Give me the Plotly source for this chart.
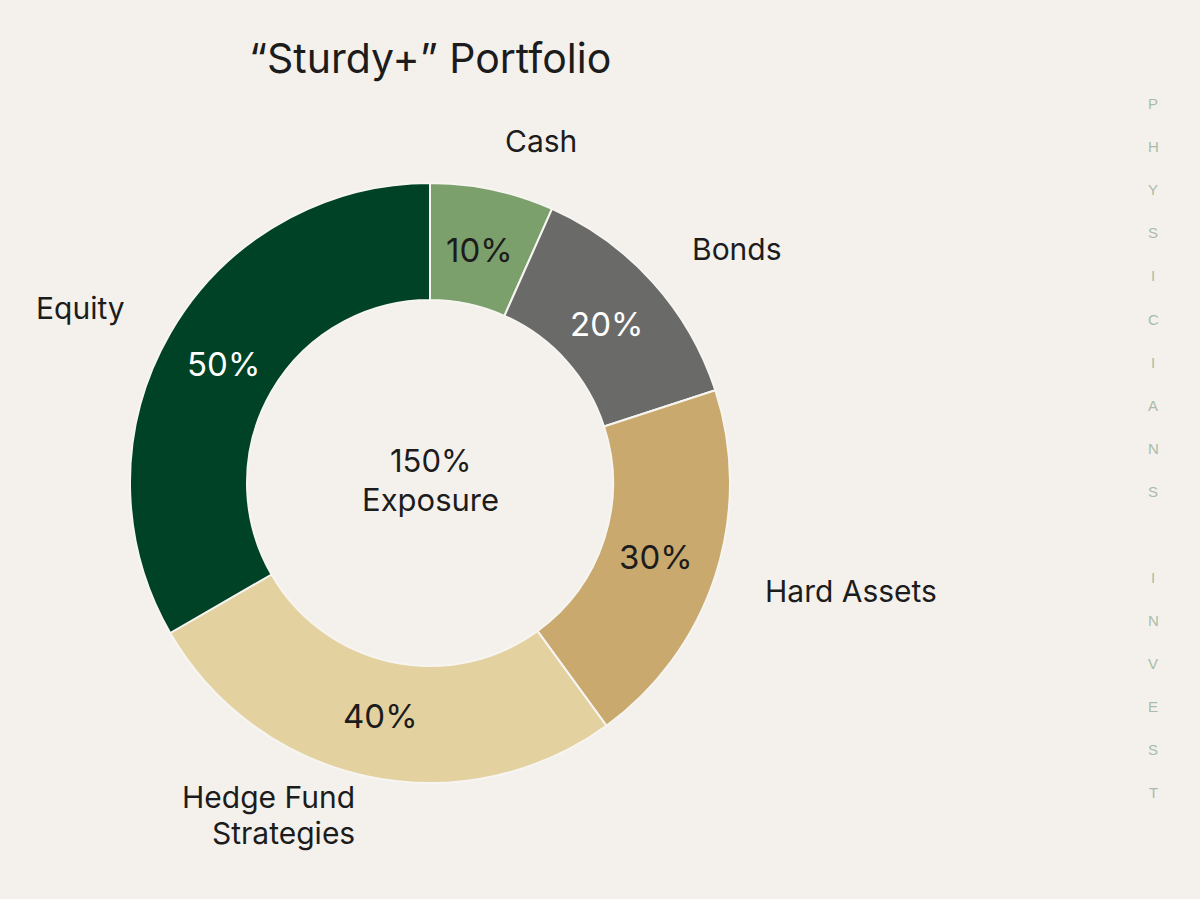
import math
import plotly.graph_objects as go

labels = ["Cash", "Bonds", "Hard Assets", "Hedge Fund<br>Strategies", "Equity"]
values = [10, 20, 30, 40, 50]
colors = ["#7ca06c", "#6a6b69", "#c9a96e", "#e3d1a0", "#004225"]
text_colors = ["#1c1c1c", "#ffffff", "#1c1c1c", "#1c1c1c", "#ffffff"]
title_text = "“Sturdy+” Portfolio"
center_text = "150%<br>Exposure"
side_text = "PHYSICIANS INVEST"

W, H = 1200, 899
BG = "#f4f1ec"
FONT = "Inter, Roboto, sans-serif"
DARK = "#1c1c1c"

cx, cy, R = 430, 483, 300  # pixel geometry of the donut
HOLE = 0.61

fig = go.Figure()
fig.add_trace(go.Pie(
    labels=labels,
    values=values,
    sort=False,
    direction="clockwise",
    rotation=0,
    hole=HOLE,
    marker=dict(colors=colors, line=dict(color="#f7f5f1", width=2)),
    textinfo="none",
    showlegend=False,
    hoverinfo="label+value",
    domain=dict(x=[(cx - R) / W, (cx + R) / W],
                y=[(H - cy - R) / H, (H - cy + R) / H]),
))

annotations = []


def add_text(px, py, text, size, color, xanchor="center", family=FONT,
             line=36, lift=0.0):
    lines = text.split("<br>")
    n = len(lines)
    base = py - (n - 1) * line * lift
    for k, ln in enumerate(lines):
        yy = base + (k - (n - 1) / 2) * line
        annotations.append(dict(
            x=px / W, y=1 - yy / H, xref="paper", yref="paper",
            text=ln, showarrow=False, xanchor=xanchor, yanchor="middle",
            font=dict(family=family, size=size, color=color),
        ))


total = sum(values)
acc = 0
r_lab = 350
r_pct = 238
for lab, v, tc in zip(labels, values, text_colors):
    mid = (acc + v / 2) / total * 2 * math.pi
    acc += v
    s, c = math.sin(mid), math.cos(mid)
    # outside category label
    right = s > 0
    add_text(cx + r_lab * s, cy - r_lab * c, lab, 30, DARK,
             xanchor="left" if right else "right", line=36, lift=0.3)
    # inside percentage
    add_text(cx + r_pct * s, cy - r_pct * c, f"{v}%", 33, tc)

# centre text
add_text(cx, cy - 3, center_text, 31, DARK, line=38)

# title
add_text(cx, 58, title_text, 41, DARK)

# vertical brand text
for i, ch in enumerate(side_text):
    if ch == " ":
        continue
    add_text(1153, 104 + 43 * i, ch, 15, "#a9bca9",
             family="Liberation Sans, Arial, sans-serif")

fig.update_layout(
    width=W, height=H,
    margin=dict(l=0, r=0, t=0, b=0),
    paper_bgcolor=BG, plot_bgcolor=BG,
    annotations=annotations,
)

fig.write_html("out.html")
